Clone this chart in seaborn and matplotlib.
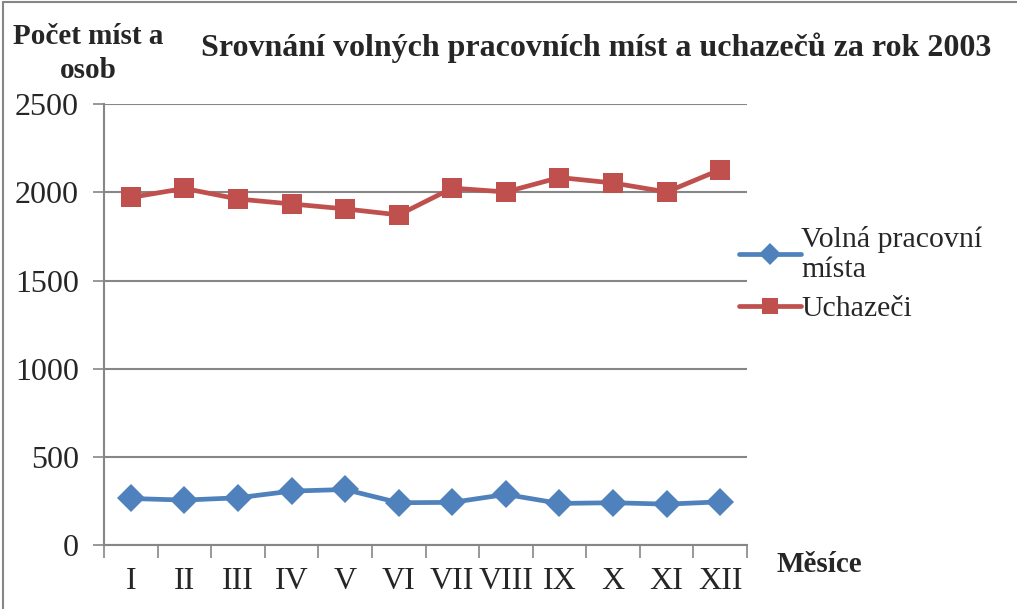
import pandas as pd
import seaborn as sns
import matplotlib.pyplot as plt
from matplotlib.lines import Line2D
from matplotlib.ticker import FixedLocator

months = ["I", "II", "III", "IV", "V", "VI", "VII", "VIII", "IX", "X", "XI", "XII"]
volna_mista = [264, 255, 268, 306, 315, 240, 242, 287, 236, 240, 232, 245]
uchazeci = [1971, 2022, 1962, 1934, 1906, 1872, 2024, 2002, 2084, 2053, 2002, 2128]
series_names = ["Volná pracovní\nmísta", "Uchazeči"]

df = pd.DataFrame({
    "mesic": months * 2,
    "pocet": volna_mista + uchazeci,
    "rada": [series_names[0]] * 12 + [series_names[1]] * 12,
})

sns.set_style("white")
plt.rcParams["font.family"] = ["Liberation Serif", "DejaVu Serif"]

blue = "#4F81BD"
red = "#C0504D"
grid_gray = "#868686"

fig = plt.figure(figsize=(10.17, 6.09), dpi=100)
ax = fig.add_axes([0.1023, 0.105, 0.6322, 0.724])

sns.lineplot(data=df, x="mesic", y="pocet", hue="rada", style="rada",
             hue_order=series_names, style_order=series_names,
             palette=[blue, red], markers=["D", "s"], dashes=False,
             markersize=14, linewidth=3.4, markeredgewidth=0,
             sort=False, legend=False, ax=ax)

ax.set_xlim(-0.5, len(months) - 0.5)
ax.set_ylim(0, 2500)
ax.set_yticks(range(0, 2501, 500))
ax.yaxis.grid(True, color=grid_gray, linewidth=1.5)
ax.set_axisbelow(True)
ax.set_xticks(range(len(months)))
ax.set_xticklabels(months)
ax.xaxis.set_minor_locator(FixedLocator([i - 0.5 for i in range(len(months) + 1)]))
ax.tick_params(axis="x", which="major", length=0, pad=16, labelsize=23)
ax.tick_params(axis="x", which="minor", bottom=True, length=9, width=1.2,
               color=grid_gray, direction="out")
ax.tick_params(axis="y", left=True, length=8, width=1.2, color=grid_gray,
               direction="out", labelsize=23, pad=10)
for side in ["top", "right"]:
    ax.spines[side].set_visible(False)
for side in ["left", "bottom"]:
    ax.spines[side].set_color(grid_gray)
    ax.spines[side].set_linewidth(1.5)
ax.set_xlabel("")
ax.set_ylabel("")

fig.text(0.087, 0.912, "Počet míst a\nosob", ha="center", va="center",
         fontsize=21, fontweight="bold", linespacing=1.3)
fig.text(0.586, 0.921, "Srovnání volných pracovních míst a uchazečů za rok 2003",
         ha="center", va="center", fontsize=23, fontweight="bold")
fig.text(0.806, 0.073, "Měsíce", ha="center", va="center", fontsize=21, fontweight="bold")

handles = [
    Line2D([], [], color=blue, marker="D", markersize=11, linewidth=3.4, markeredgewidth=0),
    Line2D([], [], color=red, marker="s", markersize=12, linewidth=3.4, markeredgewidth=0),
]
fig.legend(handles, series_names, loc="center left", bbox_to_anchor=(0.70, 0.55),
           frameon=False, fontsize=21.5, handlelength=2.1, handletextpad=0.0,
           labelspacing=0.42)

# gray frame around the whole chart
fig.add_artist(Line2D([0.003, 0.003], [0, 0.997], color=grid_gray, linewidth=1.5,
                      transform=fig.transFigure))
fig.add_artist(Line2D([0.003, 1], [0.997, 0.997], color=grid_gray, linewidth=1.5,
                      transform=fig.transFigure))

fig.savefig("out.png", dpi=100)
